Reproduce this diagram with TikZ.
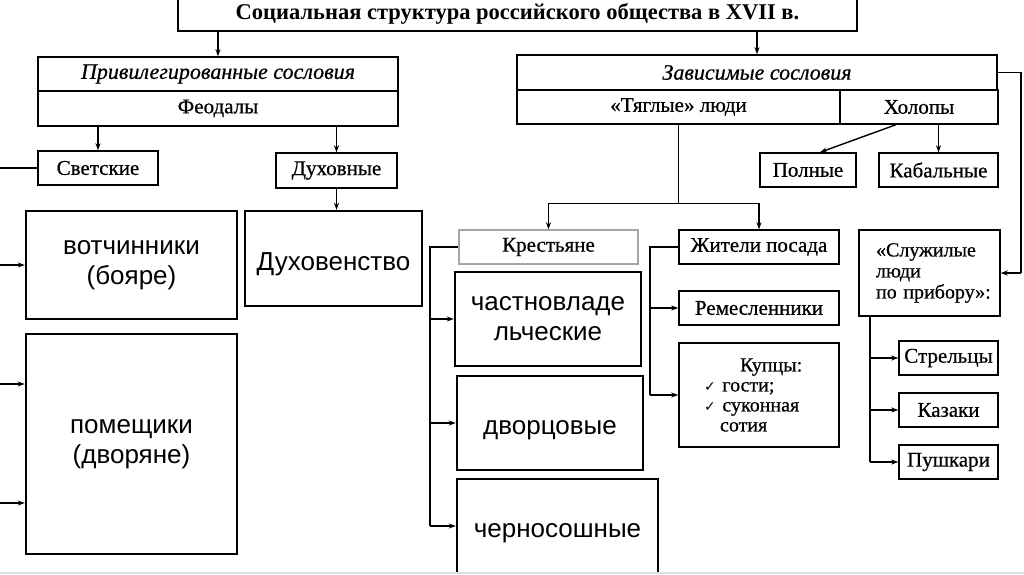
\documentclass[tikz,border=0pt]{standalone}
\usepackage{fontspec}
\setmainfont{Liberation Serif}
\newfontfamily\oldf{Liberation Serif}[FakeBold=0.6]
\newfontfamily\sansf{Liberation Sans}
\newfontfamily\chkfont{DejaVu Sans}
\usepackage{tikz}
\usetikzlibrary{arrows.meta,calc}

\newcommand{\chk}{{\chkfont\fontsize{14}{16}\selectfont ✓}}

\begin{document}
\begin{tikzpicture}[x=1pt, y=-1pt,
    oldbox/.style={draw, line width=1.4pt, inner sep=0pt, font=\oldf\fontsize{21}{21}\selectfont},
    newbox/.style={draw, line width=2.4pt, inner sep=0pt, align=center,
      font=\sansf\fontsize{26}{30}\selectfont, execute at begin node={\rule{0pt}{29pt}}},
    link/.style={line width=1.4pt},
    arr/.style={link, -{Stealth[length=7pt, width=5pt]}}]

    \useasboundingbox (0,0) rectangle (1024,574);

    % top
    \node[oldbox, minimum width=679pt, minimum height=34pt, font=\bfseries\fontsize{22.5}{24}\selectfont] (title) at (517.5,14) {Социальная структура российского общества в XVII в.};

    % privileged
    \node[oldbox, minimum width=360pt, minimum height=34pt, font=\oldf\itshape\fontsize{22}{22}\selectfont] (priv) at (218,74) {Привилегированные сословия};
    \node[oldbox, minimum width=360pt, minimum height=35pt] (feod) at (218,108.5) {Феодалы};
    \node[oldbox, minimum width=120pt, minimum height=34pt] (svet) at (98,168) {Светские};
    \node[oldbox, minimum width=121pt, minimum height=35pt] (duh) at (336.5,170.5) {Духовные};

    \node[newbox, minimum width=211pt, minimum height=108pt] (votch) at (131.5,265) {вотчинники\\(бояре)};
    \node[newbox, minimum width=211pt, minimum height=220pt] (pomesch) at (131.5,444) {помещики\\(дворяне)};
    \node[newbox, minimum width=177pt, minimum height=95pt] (duhov) at (333.5,258.5) {Духовенство};

    % dependent
    \node[oldbox, minimum width=480pt, minimum height=35pt, font=\oldf\itshape\fontsize{22}{22}\selectfont] (zav) at (757,72.5) {Зависимые сословия};
    \node[oldbox, minimum width=323pt, minimum height=34pt] (tyag) at (678.5,107) {«Тяглые» люди};
    \node[oldbox, minimum width=158pt, minimum height=34pt] (holop) at (919,107) {Холопы};
    \node[oldbox, minimum width=96pt, minimum height=34pt] (poln) at (808,170) {Полные};
    \node[oldbox, minimum width=119pt, minimum height=34pt] (kabal) at (938.5,170) {Кабальные};

    \node[oldbox, draw=gray!70, minimum width=179pt, minimum height=34pt] (krest) at (548.5,247) {Крестьяне};
    \node[newbox, minimum width=186pt, minimum height=94pt] (chast) at (548,319) {частновладе\\льческие};
    \node[newbox, minimum width=186pt, minimum height=94pt] (dvorc) at (550,423) {дворцовые};
    \node[newbox, minimum width=201pt, minimum height=94pt] (chern) at (557.5,526) {черносошные};

    \node[oldbox, minimum width=160pt, minimum height=34pt] (zhit) at (759,247) {Жители посада};
    \node[oldbox, minimum width=160pt, minimum height=34pt] (remes) at (759,308) {Ремесленники};
    \node[oldbox, minimum width=160pt, minimum height=104pt, text width=110pt, align=left,
      font=\oldf\fontsize{20}{20}\selectfont] (kupc) at (759,395)
      {\hspace*{36pt}Купцы:\\\chk\ гости;\\\chk~суконная\\\hspace*{16pt}сотия};

    \node[oldbox, minimum width=141pt, minimum height=86pt, text width=107pt, align=left,
      font=\oldf\fontsize{20}{21}\selectfont] (sluz) at (929.5,273)
      {«Служилые\\люди\\по~прибору»:};
    \node[oldbox, minimum width=99pt, minimum height=34pt] (strel) at (948.5,358) {Стрельцы};
    \node[oldbox, minimum width=99pt, minimum height=34pt] (kazak) at (948.5,410) {Казаки};
    \node[oldbox, minimum width=99pt, minimum height=34pt] (push) at (948.5,462) {Пушкари};

    % connectors
    \draw[arr] (title.south -| priv.north) -- (priv.north);
    \draw[arr] (title.south -| zav.north) -- (zav.north);
    \draw[arr] (feod.south -| svet.north) -- (svet.north);
    \draw[arr] (feod.south -| duh.north) -- (duh.north);
    \draw[arr] (duh.south) -- (duh.south |- duhov.north);

    \coordinate (lbus) at (-6,503);
    \draw[link] (svet.west) -| (lbus);
    \draw[arr] (lbus |- votch.west) -- (votch.west);
    \draw[arr] (lbus |- {$(pomesch.west)+(0,-60)$}) -- ($(pomesch.west)+(0,-60)$);
    \draw[arr] (lbus) -- ($(pomesch.west)+(0,59)$);

    \draw[arr] ([xshift=-23pt]holop.south) -- ([xshift=12pt]poln.north);
    \draw[arr] (holop.south -| kabal.north) -- (kabal.north);

    \draw[link] (tyag.south) -- ++(0,79) coordinate (tj);
    \draw[arr] (tj) -| (krest.north);
    \draw[arr] (tj) -| (zhit.north);

    \coordinate (kbus) at (430,526);
    \draw[link] (krest.west) -| (kbus);
    \draw[arr] (kbus |- chast.west) -- (chast.west);
    \draw[arr] (kbus |- dvorc.west) -- (dvorc.west);
    \draw[arr] (kbus) -- (chern.west);

    \coordinate (zbus) at (650,395);
    \draw[link] (zhit.west) -| (zbus);
    \draw[arr] (zbus |- remes.west) -- (remes.west);
    \draw[arr] (zbus) -- (kupc.west);

    \coordinate (rbus) at (1021,273);
    \draw[link] (zav.east) -| (rbus);
    \draw[arr] (rbus) -- (sluz.east);

    \coordinate (sbus) at (870,462);
    \draw[link] (sluz.south -| sbus) -- (sbus);
    \draw[arr] (sbus |- strel.west) -- (strel.west);
    \draw[arr] (sbus |- kazak.west) -- (kazak.west);
    \draw[arr] (sbus) -- (push.west);

    \fill[gray!25] (0,572) rectangle (1024,574);
\end{tikzpicture}
\end{document}
